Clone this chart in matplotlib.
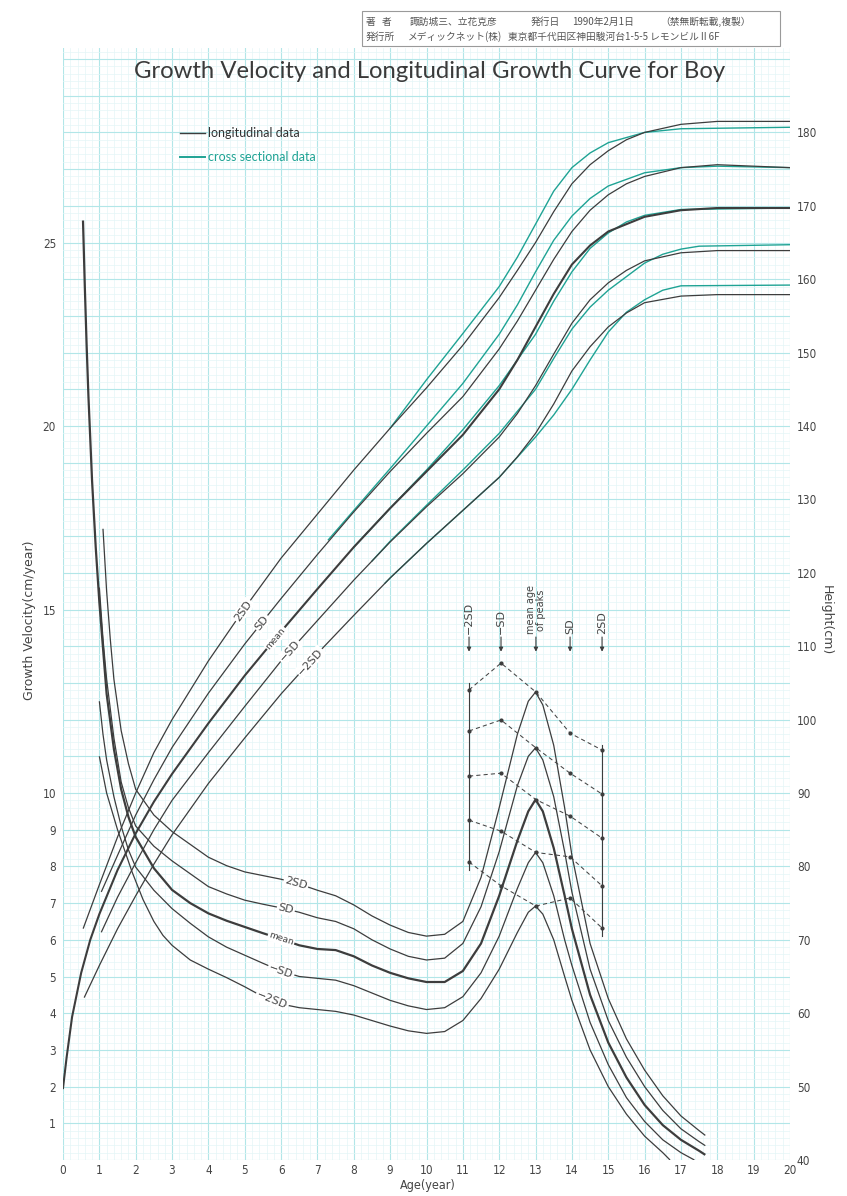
import numpy as np
import matplotlib
matplotlib.use("Agg")
import matplotlib.pyplot as plt
from matplotlib.ticker import MultipleLocator
from matplotlib.patches import Rectangle

# ---------------- growth velocity (cm/year), longitudinal ----------------
v2sd_age = [1.1, 1.2, 1.3, 1.4, 1.6, 1.8, 2.0, 2.5, 3.0, 3.5, 4.0, 4.5, 5.0, 5.5, 6.0, 6.5, 7.0, 7.5, 8.0, 8.5, 9.0,
            9.5, 10.0, 10.5, 11.0, 11.5, 12.0, 12.5, 12.8, 13.0, 13.2, 13.5, 13.8, 14.0, 14.5, 15.0, 15.5, 16.0,
            16.5, 17.0, 17.5, 17.67]
v2sd = [17.2, 15.5, 14.2, 13.1, 11.7, 10.8, 10.1, 9.4, 8.95, 8.6, 8.25, 8.02, 7.85, 7.75, 7.65, 7.52, 7.35, 7.2,
        6.95, 6.65, 6.4, 6.2, 6.1, 6.15, 6.5, 7.7, 9.6, 11.6, 12.5, 12.75, 12.4, 11.3, 9.6, 8.3, 5.9, 4.4, 3.3, 2.45,
        1.75, 1.2, 0.8, 0.67]

vsd_age = [1.0, 1.1, 1.2, 1.4, 1.6, 1.8, 2.0, 2.5, 3.0, 3.5, 4.0, 4.5, 5.0, 5.5, 6.0, 6.5, 7.0, 7.5, 8.0, 8.5, 9.0,
           9.5, 10.0, 10.5, 11.0, 11.5, 12.0, 12.5, 12.8, 13.0, 13.2, 13.5, 13.8, 14.0, 14.5, 15.0, 15.5, 16.0,
           16.5, 17.0, 17.5, 17.67]
vsd = [15.6, 14.2, 13.1, 11.5, 10.3, 9.6, 9.1, 8.55, 8.15, 7.8, 7.45, 7.25, 7.08, 6.97, 6.87, 6.75, 6.6, 6.5, 6.3,
       6.0, 5.75, 5.55, 5.45, 5.5, 5.9, 6.9, 8.4, 10.2, 11.0, 11.23, 10.9, 9.9, 8.4, 7.3, 5.2, 3.8, 2.8, 2.0, 1.35,
       0.85, 0.5, 0.39]

vmean_age = [0.55, 0.6, 0.65, 0.7, 0.8, 0.9, 1.0, 1.2, 1.4, 1.6, 1.8, 2.0, 2.5, 3.0, 3.5, 4.0, 4.5, 5.0, 5.5, 6.0,
             6.5, 7.0, 7.5, 8.0, 8.5, 9.0, 9.5, 10.0, 10.5, 11.0, 11.5, 12.0, 12.5, 12.8, 13.0, 13.2, 13.5, 13.8,
             14.0, 14.5, 15.0, 15.5, 16.0, 16.5, 17.0, 17.5, 17.67]
vmean = [25.6, 23.8, 22.2, 20.8, 18.5, 16.7, 15.2, 12.7, 11.2, 10.1, 9.35, 8.8, 7.95, 7.36, 7.0, 6.72, 6.52, 6.35,
         6.18, 6.02, 5.85, 5.75, 5.72, 5.55, 5.3, 5.1, 4.95, 4.85, 4.85, 5.15, 5.9, 7.2, 8.7, 9.5, 9.82, 9.5, 8.5,
         7.2, 6.3, 4.5, 3.2, 2.25, 1.5, 0.95, 0.55, 0.25, 0.14]

vmsd_age = [1.0, 1.1, 1.2, 1.4, 1.6, 1.8, 2.0, 2.5, 3.0, 3.5, 4.0, 4.5, 5.0, 5.5, 6.0, 6.5, 7.0, 7.5, 8.0, 8.5, 9.0,
            9.5, 10.0, 10.5, 11.0, 11.5, 12.0, 12.5, 12.8, 13.0, 13.2, 13.5, 13.8, 14.0, 14.5, 15.0, 15.5, 16.0,
            16.5, 17.0, 17.37]
vmsd = [12.5, 11.6, 10.9, 9.9, 9.1, 8.45, 7.98, 7.35, 6.85, 6.45, 6.08, 5.8, 5.58, 5.36, 5.15, 5.0, 4.95, 4.9, 4.75,
        4.55, 4.35, 4.2, 4.1, 4.15, 4.45, 5.1, 6.1, 7.4, 8.1, 8.38, 8.1, 7.2, 6.0, 5.3, 3.75, 2.6, 1.7, 1.05, 0.55,
        0.2, 0.0]

vm2sd_age = [1.0, 1.2, 1.5, 1.9, 2.2, 2.5, 2.75, 3.0, 3.5, 4.0, 4.5, 5.0, 5.5, 6.0, 6.5, 7.0, 7.5, 8.0, 8.5, 9.0, 9.5,
             10.0, 10.5, 11.0, 11.5, 12.0, 12.5, 12.8, 13.0, 13.2, 13.5, 13.8, 14.0, 14.5, 15.0, 15.5, 16.0, 16.5,
             16.7]
vm2sd = [11.0, 10.0, 9.0, 7.85, 7.1, 6.5, 6.12, 5.85, 5.45, 5.2, 4.97, 4.72, 4.45, 4.25, 4.15, 4.1, 4.05, 3.95, 3.8,
         3.65, 3.52, 3.45, 3.5, 3.8, 4.4, 5.2, 6.2, 6.75, 6.92, 6.7, 6.0, 5.0, 4.35, 3.0, 2.0, 1.25, 0.65, 0.2, 0.0]

# ---------------- height (cm), longitudinal ----------------
h2sd_age = [0.56, 1.0, 1.5, 2.0, 2.5, 3.0, 4.0, 5.0, 6.0, 7.0, 8.0, 9.0, 10.0, 11.0, 12.0, 12.5, 13.0, 13.5, 14.0,
            14.5, 15.0, 15.5, 16.0, 17.0, 18.0, 20.0]
h2sd = [71.6, 77.5, 84.0, 90.0, 95.5, 100.0, 108.0, 115.2, 122.0, 128.0, 134.0, 139.7, 145.2, 151.0, 157.5, 161.2,
        165.0, 169.2, 173.0, 175.6, 177.5, 179.0, 180.0, 181.1, 181.5, 181.5]

hsd_age = [1.06, 1.5, 2.0, 2.5, 3.0, 4.0, 5.0, 6.0, 7.0, 8.0, 9.0, 10.0, 11.0, 12.0, 12.5, 13.0, 13.5, 14.0, 14.5,
           15.0, 15.5, 16.0, 17.0, 18.0, 20.0]
hsd = [76.6, 81.5, 87.0, 91.8, 96.2, 103.6, 110.3, 116.5, 122.5, 128.3, 133.8, 139.0, 144.0, 150.5, 154.3, 158.5,
       162.7, 166.5, 169.4, 171.5, 173.0, 174.0, 175.2, 175.6, 175.2]

hmean_age = [0.0, 0.1, 0.25, 0.5, 0.75, 1.0, 1.5, 2.0, 2.5, 3.0, 4.0, 5.0, 6.0, 7.0, 8.0, 9.0, 10.0, 11.0, 12.0, 12.5,
             13.0, 13.5, 14.0, 14.5, 15.0, 16.0, 17.0, 18.0, 20.0]
hmean = [49.8, 54.0, 59.5, 65.5, 70.0, 73.5, 79.5, 84.5, 88.8, 92.6, 99.5, 106.0, 112.0, 117.8, 123.5, 128.8, 133.8,
         138.8, 145.0, 149.0, 153.5, 158.0, 162.0, 164.6, 166.5, 168.5, 169.4, 169.7, 169.7]

hmsd_age = [1.06, 1.5, 2.0, 2.5, 3.0, 4.0, 5.0, 6.0, 7.0, 8.0, 9.0, 10.0, 11.0, 12.0, 12.5, 13.0, 13.5, 14.0, 14.5,
            15.0, 15.5, 16.0, 17.0, 18.0, 20.0]
hmsd = [71.1, 75.8, 80.5, 85.0, 89.0, 95.5, 101.8, 108.0, 113.5, 119.0, 124.2, 129.0, 133.5, 138.5, 141.7, 145.5,
        149.8, 154.0, 157.2, 159.5, 161.2, 162.5, 163.6, 163.9, 163.9]

hm2sd_age = [0.59, 1.0, 1.5, 2.0, 2.5, 3.0, 4.0, 5.0, 6.0, 7.0, 8.0, 9.0, 10.0, 11.0, 12.0, 12.5, 13.0, 13.5, 14.0,
             14.5, 15.0, 15.5, 16.0, 17.0, 18.0, 20.0]
hm2sd = [62.2, 66.5, 71.5, 76.0, 80.3, 84.3, 91.3, 97.5, 103.5, 109.0, 114.2, 119.3, 124.0, 128.5, 133.0, 135.8,
         139.0, 143.0, 147.5, 150.8, 153.5, 155.4, 156.8, 157.7, 157.9, 157.9]

# ---------------- height (cm), cross sectional ----------------
c2sd_age = [9.0, 10.0, 11.0, 12.0, 12.5, 13.0, 13.5, 14.0, 14.5, 15.0, 16.0, 17.0, 20.0]
c2sd = [139.7, 146.3, 152.6, 159.0, 163.0, 167.5, 172.0, 175.2, 177.2, 178.6, 180.0, 180.5, 180.7]

csd_age = [7.3, 8.0, 9.0, 10.0, 11.0, 12.0, 12.5, 13.0, 13.5, 14.0, 14.5, 15.0, 16.0, 17.0, 18.0, 20.0]
csd = [124.5, 128.5, 134.2, 140.0, 145.8, 152.5, 156.5, 161.0, 165.3, 168.6, 171.0, 172.7, 174.5, 175.2, 175.4, 175.2]

cmean_age = [8.0, 9.0, 10.0, 11.0, 12.0, 13.0, 13.5, 14.0, 14.5, 15.0, 15.5, 16.0, 17.0, 20.0]
cmean = [123.5, 128.8, 134.0, 139.5, 145.5, 152.5, 157.0, 161.0, 164.2, 166.3, 167.8, 168.7, 169.5, 169.7]

cmsd_age = [8.5, 9.0, 10.0, 11.0, 12.0, 13.0, 13.5, 14.0, 14.5, 15.0, 16.0, 16.5, 17.0, 17.5, 20.0]
cmsd = [121.6, 124.3, 129.2, 134.0, 139.0, 145.0, 149.2, 153.2, 156.2, 158.5, 162.2, 163.4, 164.1, 164.5, 164.7]

cm2sd_age = [8.86, 9.0, 10.0, 11.0, 12.0, 13.0, 13.5, 14.0, 14.5, 15.0, 15.5, 16.0, 16.5, 17.0, 20.0]
cm2sd = [118.6, 119.3, 124.0, 128.5, 133.0, 138.5, 141.5, 145.0, 149.0, 152.8, 155.5, 157.2, 158.5, 159.1, 159.2]

# ---------------- peak height velocity by age of peak ----------------
peak_age = [11.17, 12.05, 13.01, 13.95, 14.83]
peak_labels = ["\u22122SD", "\u2212SD", "mean age\nof peaks", "SD", "2SD"]
pv_2sd = [12.81, 13.54, 12.75, 11.63, 11.17]
pv_sd = [11.69, 11.99, 11.23, 10.54, 9.97]
pv_mean = [10.46, 10.54, 9.82, 9.37, 8.77]
pv_msd = [9.26, 8.96, 8.38, 8.26, 7.47]
pv_m2sd = [8.12, 7.47, 6.92, 7.14, 6.32]

# axis ticks
age_ticks = list(range(0, 21))
vel_tick_labels = [1, 2, 3, 4, 5, 6, 7, 8, 9, 10, 15, 20, 25]
height_ticks = list(range(40, 181, 10))

# ---------------- figure ----------------
W, H = 847, 1196
fig = plt.figure(figsize=(W / 100, H / 100), dpi=100)
fig.patch.set_facecolor("white")

x0, x1, y0, y1 = 63, 790, 1160, 48
ax = fig.add_axes([x0 / W, 1 - y0 / H, (x1 - x0) / W, (y0 - y1) / H])
VTOP = 30.3
ax.set_xlim(0, 20)
ax.set_ylim(0, VTOP)

GRID_MAJOR = "#b2e6e8"
GRID_MINOR = "#e4f6f7"
DARK = "#3d3d3d"
TEAL = "#1fa394"
TXT = "#444444"
TICKFONT = dict(fontsize=8.5, color=TXT, fontstretch="condensed")

ax.xaxis.set_minor_locator(MultipleLocator(0.2))
ax.yaxis.set_minor_locator(MultipleLocator(0.2))
ax.set_xticks(age_ticks)
ax.set_xticklabels([str(t) for t in age_ticks], **TICKFONT)
ax.set_yticks(range(0, 31))
ax.set_yticklabels([str(t) if t in vel_tick_labels else "" for t in range(0, 31)], **TICKFONT)
ax.tick_params(which="both", length=0)
ax.tick_params(axis="x", pad=3)
ax.tick_params(axis="y", pad=5)
ax.grid(which="minor", color=GRID_MINOR, lw=0.5, zorder=0)
ax.grid(which="major", color=GRID_MAJOR, lw=0.8, zorder=0)
ax.set_axisbelow(True)
for s in ax.spines.values():
    s.set_visible(False)

ax2 = ax.twinx()
ax2.set_ylim(40, 40 + 5 * VTOP)
ax2.set_yticks(height_ticks)
ax2.set_yticklabels([str(t) for t in height_ticks], **TICKFONT)
ax2.tick_params(length=0, pad=5)
for s in ax2.spines.values():
    s.set_visible(False)

# velocity curves
for a, v, lw in [(v2sd_age, v2sd, 0.9), (vsd_age, vsd, 0.9), (vmean_age, vmean, 1.6),
                 (vmsd_age, vmsd, 0.9), (vm2sd_age, vm2sd, 0.9)]:
    ax.plot(a, v, color=DARK, lw=lw, solid_capstyle="butt", zorder=3)

# height curves, cross sectional first so the longitudinal lines sit on top
for a, h in [(c2sd_age, c2sd), (csd_age, csd), (cmean_age, cmean), (cmsd_age, cmsd), (cm2sd_age, cm2sd)]:
    ax2.plot(a, h, color=TEAL, lw=1.0, zorder=2)
for a, h, lw in [(h2sd_age, h2sd, 0.9), (hsd_age, hsd, 0.9), (hmean_age, hmean, 1.5),
                 (hmsd_age, hmsd, 0.9), (hm2sd_age, hm2sd, 0.9)]:
    ax2.plot(a, h, color=DARK, lw=lw, zorder=3)


def curve_label(axis, ages, vals, at, text, size):
    y = np.interp(at, ages, vals)
    p1 = axis.transData.transform((at - 0.2, np.interp(at - 0.2, ages, vals)))
    p2 = axis.transData.transform((at + 0.2, np.interp(at + 0.2, ages, vals)))
    ang = np.degrees(np.arctan2(p2[1] - p1[1], p2[0] - p1[0]))
    axis.text(at, y, text, rotation=ang, rotation_mode="anchor", ha="center", va="center",
              fontsize=size, color=TXT, zorder=5,
              bbox=dict(boxstyle="square,pad=0.12", fc="white", ec="none"))


# curve names on the height lines
curve_label(ax2, h2sd_age, h2sd, 4.95, "2SD", 8)
curve_label(ax2, hsd_age, hsd, 5.47, "SD", 8)
curve_label(ax2, hmean_age, hmean, 5.85, "mean", 6.5)
curve_label(ax2, hmsd_age, hmsd, 6.24, "\u2212SD", 8)
curve_label(ax2, hm2sd_age, hm2sd, 6.80, "\u22122SD", 8)

# curve names on the velocity lines
curve_label(ax, v2sd_age, v2sd, 6.41, "2SD", 8)
curve_label(ax, vsd_age, vsd, 6.13, "SD", 8)
curve_label(ax, vmean_age, vmean, 6.0, "mean", 6.5)
curve_label(ax, vmsd_age, vmsd, 6.0, "\u2212SD", 8)
curve_label(ax, vm2sd_age, vm2sd, 5.75, "\u22122SD", 8)

# peak velocity plotted against age of peak
for pv in [pv_2sd, pv_sd, pv_mean, pv_msd, pv_m2sd]:
    ax.plot(peak_age, pv, color=TXT, lw=0.75, ls=(0, (4, 3)), marker="o", ms=2.0,
            mfc=DARK, mec=DARK, zorder=4)
ax.plot([peak_age[0]] * 2, [13.0, 7.9], color=DARK, lw=0.8, zorder=4)
ax.plot([peak_age[-1]] * 2, [11.3, 6.1], color=DARK, lw=0.8, zorder=4)
for a, lab in zip(peak_age, peak_labels):
    ax.annotate("", xy=(a, 13.85), xytext=(a, 14.25),
                arrowprops=dict(arrowstyle="-|>", color=DARK, lw=0.8, mutation_scale=6,
                                shrinkA=0, shrinkB=0), zorder=5)
    ax.text(a, 14.32, lab, rotation=90, ha="center", va="bottom", fontsize=7 if "\n" in lab else 8,
            color=TXT, linespacing=0.95, zorder=5)

# legend
ax.plot([3.22, 3.92], [27.98, 27.98], color=DARK, lw=1.0)
ax.text(3.98, 27.98, "longitudinal data", fontsize=9, color="#333333", va="center", family="Lato")
ax.plot([3.22, 3.92], [27.33, 27.33], color=TEAL, lw=1.4)
ax.text(3.98, 27.33, "cross sectional data", fontsize=9, color=TEAL, va="center", family="Lato")

# title
fig.text(430 / W, 1 - 72 / H, "Growth Velocity and Longitudinal Growth Curve for Boy",
         ha="center", va="center", fontsize=17.2, color="#3a3a3a", family="Lato")

# axis titles
fig.text(30 / W, 1 - 620 / H, "Growth Velocity(cm/year)", rotation=90, ha="center", va="center",
         fontsize=9, color=TXT)
fig.text(826 / W, 1 - 620 / H, "Height(cm)", rotation=270, ha="center", va="center",
         fontsize=9, color=TXT)
fig.text(428 / W, 1 - 1186 / H, "Age(year)", ha="center", va="center", fontsize=9, color=TXT,
         fontstretch="condensed")

# publication box
cjk = ["Noto Sans CJK JP", "DejaVu Sans"]
fig.patches.append(Rectangle((362 / W, 1 - 46 / H), (780 - 362) / W, (46 - 11) / H,
                             transform=fig.transFigure, fill=False, ec="#9a9a9a", lw=0.8))
row1 = [(366, "著"), (382, "者"), (410, "諏訪城三、立花克彦"), (531, "発行日"),
        (572, "1990年2月1日"), (660, "（禁無断転載,複製）")]
row2 = [(366, "発行所"), (408, "メディックネット(株)"), (508, "東京都千代田区神田駿河台1-5-5 レモンビルⅡ6F")]
for x, s in row1:
    fig.text(x / W, 1 - 22 / H, s, fontsize=7, color="#555555", family=cjk, va="center")
for x, s in row2:
    fig.text(x / W, 1 - 37 / H, s, fontsize=7, color="#555555", family=cjk, va="center")

fig.savefig("out.png", dpi=100, facecolor="white")
